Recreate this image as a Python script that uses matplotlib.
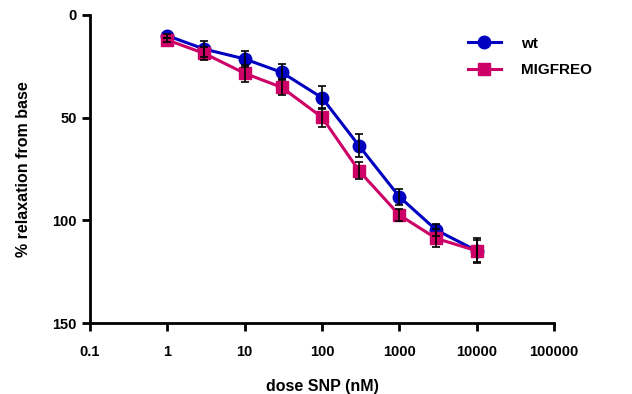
import numpy as np
import matplotlib
matplotlib.use('Agg')
import matplotlib.pyplot as plt
from matplotlib.ticker import FixedLocator, NullLocator

dose = [1, 3, 10, 30, 100, 300, 1000, 3000, 10000]
wt = [10.1, 16.6, 21.4, 27.9, 40.3, 63.6, 88.5, 104.7, 114.8]
wt_err = [1.0, 4.0, 4.0, 4.0, 5.7, 5.6, 4.0, 3.0, 5.4]
mig = [12.2, 18.7, 28.4, 35.2, 49.8, 75.8, 97.4, 108.8, 114.8]
mig_err = [1.0, 3.0, 4.0, 3.8, 4.6, 4.0, 3.0, 4.4, 6.0]
xticks = [0.1, 1, 10, 100, 1000, 10000, 100000]
xlabels = ['0.1', '1', '10', '100', '1000', '10000', '100000']
yticks = [0, 50, 100, 150]

plt.rcParams['font.family'] = ['Liberation Sans', 'DejaVu Sans']
plt.rcParams['font.weight'] = 'bold'
plt.rcParams['axes.labelweight'] = 'bold'

fig = plt.figure(figsize=(6.32, 3.94), dpi=100)
ax = fig.add_axes([0.1424, 0.180, 0.7342, 0.782])

blue = '#0000C0'
pink = '#CC0066'

ax.errorbar(dose, wt, yerr=wt_err, fmt='none', ecolor='black', elinewidth=1.2,
            capsize=3, capthick=1.2, zorder=4)
ax.errorbar(dose, mig, yerr=mig_err, fmt='none', ecolor='black', elinewidth=1.2,
            capsize=3, capthick=1.2, zorder=4)
ax.plot(dose, wt, '-o', color=blue, lw=2.2, ms=9, label='wt', zorder=3)
ax.plot(dose, mig, '-s', color=pink, lw=2.2, ms=9, label='MIGFREO', zorder=3)

ax.set_xscale('log')
ax.set_xlim(0.1, 100000)
ax.set_ylim(150, 0)
ax.xaxis.set_major_locator(FixedLocator(xticks))
ax.xaxis.set_minor_locator(NullLocator())
ax.set_xticklabels(xlabels)
ax.set_yticks(yticks)

for s in ['top', 'right']:
    ax.spines[s].set_visible(False)
for s in ['left', 'bottom']:
    ax.spines[s].set_linewidth(2)
ax.tick_params(width=2, length=6, labelsize=10.5)
ax.tick_params(axis='x', pad=10)

ax.set_xlabel('dose SNP (nM)', fontsize=11.5, fontweight='bold', labelpad=14)
ax.set_ylabel('% relaxation from base', fontsize=11.5, fontweight='bold', labelpad=15)

ax.legend(loc='upper left', bbox_to_anchor=(0.785, 0.974), frameon=False,
          handlelength=2.15, handletextpad=1.3, labelspacing=0.83,
          prop={'weight': 'bold', 'size': 11})

fig.savefig('out.png', dpi=100)
